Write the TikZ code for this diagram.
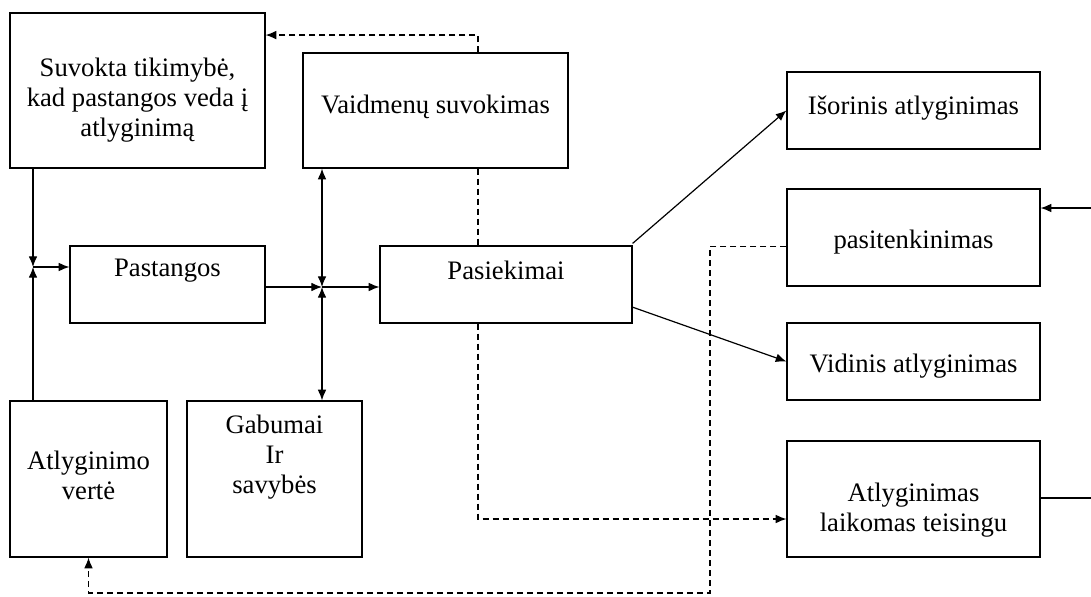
\documentclass[tikz,border=0pt]{standalone}
\usepackage{fontspec}
\setmainfont{Liberation Serif}
\usetikzlibrary{arrows.meta}

\begin{document}
\begin{tikzpicture}[x=0.75pt, y=-0.75pt, font=\fontsize{20}{22.5}\selectfont]
	\tikzset{box/.style={draw, line width=0.9pt, rectangle, inner sep=0pt}}
	\tikzset{txt/.style={align=center, inner sep=0pt}}
	\tikzset{tip/.tip={Latex[length=8pt,width=6.5pt]}}
	\tikzset{con/.style={line width=0.9pt, -tip}}
	\tikzset{dsh/.style={con, dash pattern=on 4.5pt off 3pt}}

	\useasboundingbox (0,0) rectangle (1091,596);

	% left column
	\node[box, minimum width=191.25pt, minimum height=116.25pt] (tik) at (137.5,90.5) {};
	\node[txt] (tikT) at (137.5,100) {Suvokta tikimybė,\\kad pastangos veda į\\atlyginimą};
	\node[box, minimum width=146.25pt, minimum height=57.75pt] (pas) at (167.5,284.5) {};
	\node[txt] (pasT) at (167.5,271) {Pastangos};
	\node[box, minimum width=117.75pt, minimum height=117pt] (verte) at (88.5,479) {};
	\node[txt] (verteT) at (88.5,475) {Atlyginimo\\vertė};
	\node[box, minimum width=131.25pt, minimum height=117pt] (gab) at (274.5,479) {};
	\node[txt] (gabT) at (274.5,457) {Gabumai\\Ir\\savybės};

	% middle
	\node[box, minimum width=198.75pt, minimum height=86.25pt] (vaid) at (435.5,110.5) {};
	\node[txt] (vaidT) at (435.5,107) {Vaidmenų suvokimas};
	\node[box, minimum width=189pt, minimum height=57.75pt] (pasiek) at (506,284.5) {};
	\node[txt] (pasiekT) at (506,270) {Pasiekimai};

	% right column
	\node[box, minimum width=189.75pt, minimum height=57.75pt] (isor) at (913.5,110.5) {};
	\node[txt] (isorT) at (913.5,108) {Išorinis atlyginimas};
	\node[box, minimum width=189.75pt, minimum height=72.75pt] (pasit) at (913.5,237.5) {};
	\node[txt] (pasitT) at (913.5,242) {pasitenkinimas};
	\node[box, minimum width=189.75pt, minimum height=57.75pt] (vid) at (913.5,361.5) {};
	\node[txt] (vidT) at (913.5,366) {Vidinis atlyginimas};
	\node[box, minimum width=189.75pt, minimum height=87pt] (teis) at (913.5,499) {};
	\node[txt] (teisT) at (913.5,510) {Atlyginimas\\laikomas teisingu};

	\coordinate (j1) at (33,267);
	\coordinate (j2) at (322,287);
	\coordinate (dx) at (478,519);
	\coordinate (dy) at (710,593);
	\coordinate (rin) at (1091,208);
	\coordinate (rout) at (1091,498);

	% solid connectors
	\draw[con] (tik.south -| j1) -- (j1);
	\draw[con] (verte.north -| j1) -- (j1);
	\draw[con] (j1) -- (pas.west |- j1);
	\draw[con] (pas.east |- j2) -- (j2);
	\draw[con] (j2) -- (pasiek.west |- j2);
	\draw[con, tip-tip] (vaid.south -| j2) -- (j2);
	\draw[con, tip-tip] (gab.north -| j2) -- (j2);
	\draw[con] ([yshift=1.5pt]pasiek.north east) -- (isor.west);
	\draw[con] ([yshift=-17pt]pasiek.east) -- (vid.west);
	\draw[con] (rin) -- (pasit.east |- rin);
	\draw[line width=0.9pt] (teis.east |- rout) -- (rout);

	% dashed connectors
	\draw[dsh] (vaid.north -| dx) |- ([yshift=-17pt]tik.north east);
	\draw[dsh, -] (vaid.south -| dx) -- (pasiek.north -| dx);
	\draw[dsh] (pasiek.south -| dx) -- (dx) -- (teis.west |- dx);
	\draw[dsh] ([yshift=-7pt]pasit.west) -| (dy) -| (verte.south);

\end{tikzpicture}
\end{document}
